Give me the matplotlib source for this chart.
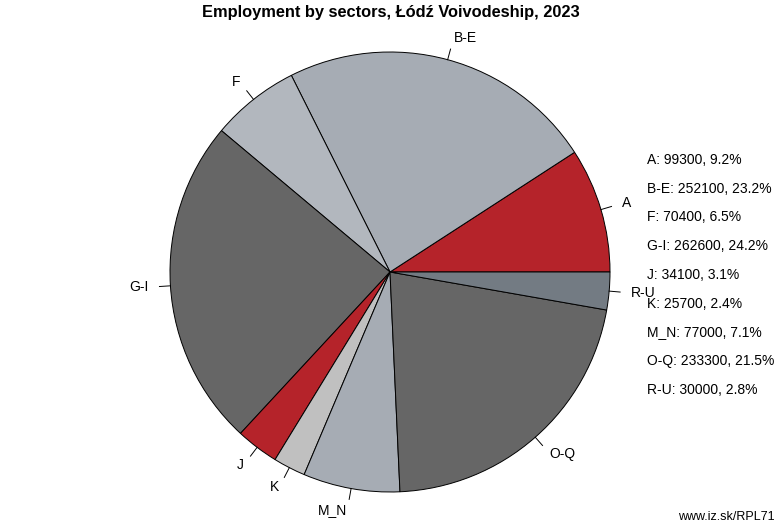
import matplotlib.pyplot as plt
import numpy as np

plt.rcParams['font.family'] = ['Liberation Sans', 'DejaVu Sans']

sectors = ["A", "B-E", "F", "G-I", "J", "K", "M_N", "O-Q", "R-U"]
values = [99300, 252100, 70400, 262600, 34100, 25700, 77000, 233300, 30000]
shares = ["9.2%", "23.2%", "6.5%", "24.2%", "3.1%", "2.4%", "7.1%", "21.5%", "2.8%"]
colors = ["#b5232a", "#a6acb4", "#b2b7be", "#666666", "#b5232a",
          "#c0c0c0", "#a6acb4", "#666666", "#737b83"]

fig = plt.figure(figsize=(7.82, 5.32), dpi=100)
ax = fig.add_axes([170 / 782, 40 / 532, 440 / 782, 440 / 532])

wedges, _ = ax.pie(values, colors=colors, startangle=0, counterclock=True,
                   radius=1, wedgeprops=dict(edgecolor="black", linewidth=0.7))
ax.set_xlim(-1, 1)
ax.set_ylim(-1, 1)
ax.set_aspect("equal")
ax.axis("off")

for w, name in zip(wedges, sectors):
    ang = np.deg2rad((w.theta1 + w.theta2) / 2)
    c, s = np.cos(ang), np.sin(ang)
    ax.plot([c, 1.05 * c], [s, 1.05 * s], color="black", lw=0.7, clip_on=False)
    ax.text(1.1 * c, 1.1 * s, name, ha="left" if c >= 0 else "right",
            va="center", fontsize=10, clip_on=False)

fig.text(391 / 782, 1 - 12 / 532, "Employment by sectors, Łódź Voivodeship, 2023",
         ha="center", va="center", fontsize=11.8, fontweight="bold")

for i, (name, v, p) in enumerate(zip(sectors, values, shares)):
    y = 160 + i * 28.7
    fig.text(647 / 782, 1 - y / 532, f"{name}: {v}, {p}", ha="left",
             va="center", fontsize=10)

fig.text(775 / 782, 1 - 517 / 532, "www.iz.sk/RPL71", ha="right",
         va="center", fontsize=9)

fig.savefig("out.png", dpi=100)
